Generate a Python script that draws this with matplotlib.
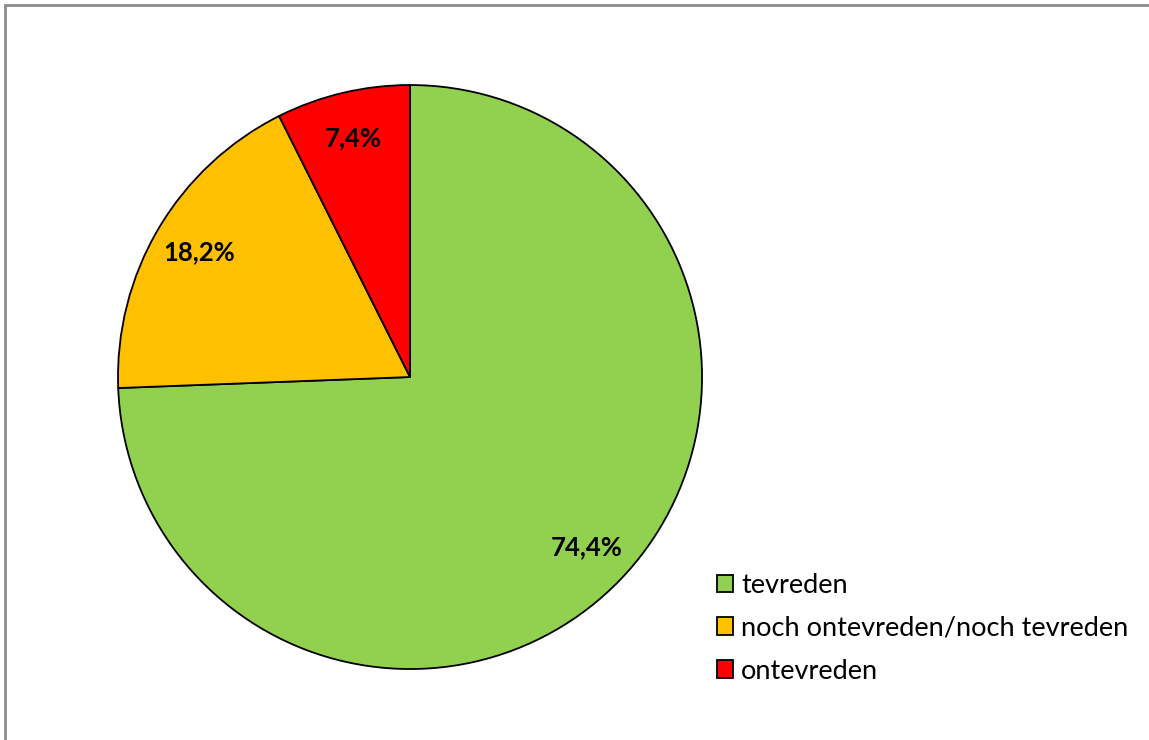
import matplotlib.pyplot as plt
from matplotlib.patches import Rectangle

labels = ['tevreden', 'noch ontevreden/noch tevreden', 'ontevreden']
values = [74.4, 18.2, 7.4]
colors = ['#92D050', '#FFC000', '#FF0000']

plt.rcParams['font.family'] = ['Lato', 'DejaVu Sans']

fig = plt.figure(figsize=(11.49, 7.4), dpi=100)

# grey frame (only top and left visible in the original)
fig.patches.append(Rectangle((5 / 1149, -0.1), 1.2, 1.1 - 5 / 740, transform=fig.transFigure,
                             fill=False, edgecolor='#8c8c8c', linewidth=2))

ax = fig.add_axes([0.1027, 0.0959, 0.5083, 0.7892])
wedges, texts, autotexts = ax.pie(
    values, colors=colors, startangle=90, counterclock=False,
    autopct=lambda p: ('%.1f%%' % p).replace('.', ','), pctdistance=0.84,
    wedgeprops=dict(edgecolor='black', linewidth=1.3),
    textprops=dict(fontsize=18.5, fontweight='bold', color='black'))
ax.set_xlim(-1, 1)
ax.set_ylim(-1, 1)
ax.set_aspect('auto')

leg = fig.legend(wedges, labels, loc='upper left', bbox_to_anchor=(0.624, 0.226),
                 frameon=False, fontsize=19.5, handlelength=0.6, handleheight=0.6,
                 handletextpad=0.3, labelspacing=0.66, borderaxespad=0, borderpad=0)
for h in leg.legend_handles:
    h.set_linewidth(1.3)

fig.savefig('out.png', dpi=100)
